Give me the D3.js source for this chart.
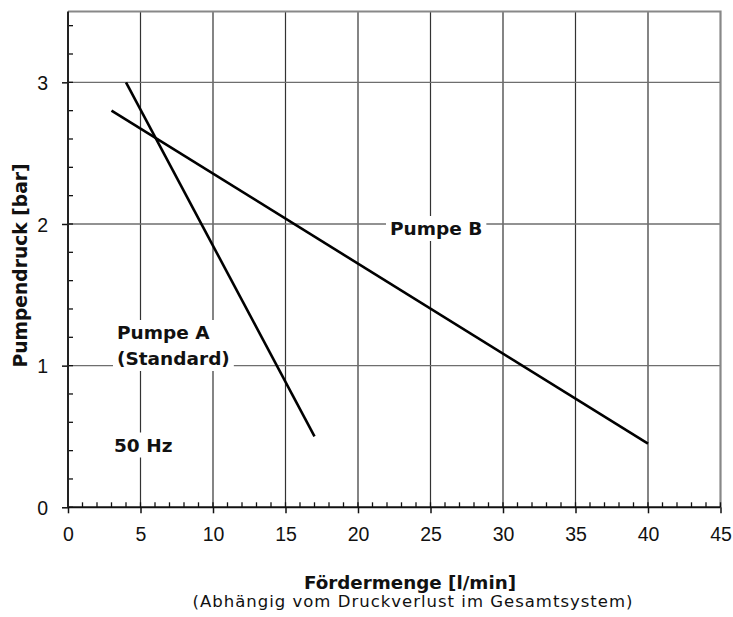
<!DOCTYPE html>
<html>
<head>
<meta charset="utf-8">
<script src="https://cdn.jsdelivr.net/npm/d3@7"></script>
<style>
  body { margin: 0; background: #fff; }
  text { font-family: "DejaVu Sans", sans-serif; }
</style>
</head>
<body>
<script>
// pump curves: [flow l/min, pressure bar]
let pumpeA = [[4, 3.0], [17, 0.5]];
let pumpeB = [[3, 2.8], [40, 0.45]];
let xTicks = [0, 5, 10, 15, 20, 25, 30, 35, 40, 45];
let yTicks = [0, 1, 2, 3];
let xMinor = d3.range(0, 46, 1);
let yMinor = d3.range(0, 3.51, 0.2);

let width = 733, height = 617;
let plotLeft = 68, plotRight = 720.5, plotTop = 11.5, plotBottom = 507.3;

let svg = d3.select("body").append("svg")
    .attr("width", width)
    .attr("height", height);

let x = d3.scaleLinear().domain([0, 45]).range([plotLeft, plotRight]);
let y = d3.scaleLinear().domain([0, 3.5]).range([plotBottom, plotTop]);

// grid
svg.selectAll(".vgrid")
    .data(xTicks.filter(d => d > 0 && d < 45))
    .enter()
        .append("line")
        .attr("x1", d => x(d)).attr("x2", d => x(d))
        .attr("y1", plotBottom).attr("y2", plotTop)
        .attr("stroke", "#333").attr("stroke-width", 1.2);

svg.selectAll(".hgrid")
    .data(yTicks.filter(d => d > 0))
    .enter()
        .append("line")
        .attr("x1", plotLeft).attr("x2", plotRight)
        .attr("y1", d => y(d)).attr("y2", d => y(d))
        .attr("stroke", "#6e6e6e").attr("stroke-width", 1.4);

// frame top/right
svg.append("path")
    .attr("d", `M${plotLeft},${plotTop}H${plotRight}V${plotBottom}`)
    .attr("fill", "none")
    .attr("stroke", "#888").attr("stroke-width", 2.2);

// axes
let xAxis = d3.axisBottom(x).tickValues(xTicks).tickSize(6).tickPadding(14);
let gx = svg.append("g")
    .attr("transform", `translate(0, ${plotBottom})`)
    .call(xAxis);

let yAxis = d3.axisLeft(y).tickValues(yTicks).tickFormat(d3.format("d"))
    .tickSize(6).tickPadding(14);
let gy = svg.append("g")
    .attr("transform", `translate(${plotLeft}, 0)`)
    .call(yAxis);

[gx, gy].forEach(g => {
    g.select(".domain").remove();
    g.selectAll("line").attr("stroke", "#111").attr("stroke-width", 1.5);
    g.selectAll("text")
        .attr("fill", "#111")
        .style("font-size", "19.5px")
        .style("font-family", "Liberation Sans, sans-serif");
});
gy.selectAll("text").attr("dy", "0.36em");

// minor ticks pointing inward
svg.selectAll(".xminor")
    .data(xMinor)
    .enter()
        .append("line")
        .attr("x1", d => x(d)).attr("x2", d => x(d))
        .attr("y1", plotBottom).attr("y2", plotBottom - 5)
        .attr("stroke", "#111").attr("stroke-width", 1.3);

svg.selectAll(".yminor")
    .data(yMinor)
    .enter()
        .append("line")
        .attr("x1", plotLeft).attr("x2", plotLeft + 5)
        .attr("y1", d => y(d)).attr("y2", d => y(d))
        .attr("stroke", "#111").attr("stroke-width", 1.3);

// axis lines
svg.append("line")
    .attr("x1", plotLeft).attr("x2", plotRight)
    .attr("y1", plotBottom).attr("y2", plotBottom)
    .attr("stroke", "#111").attr("stroke-width", 2);
svg.append("line")
    .attr("x1", plotLeft).attr("x2", plotLeft)
    .attr("y1", plotTop).attr("y2", plotBottom)
    .attr("stroke", "#222").attr("stroke-width", 2);

// labels with white background knocking out the grid
function label(lines, cx, cy, lh) {
    let g = svg.append("g");
    let t = g.append("text")
        .attr("font-weight", "bold")
        .attr("font-size", 18.5)
        .attr("fill", "#111");
    lines.forEach((s, i) => {
        t.append("tspan").attr("x", cx).attr("y", cy + i * lh).text(s);
    });
    let b = t.node().getBBox();
    g.insert("rect", "text")
        .attr("x", b.x - 4).attr("y", b.y - 2)
        .attr("width", b.width + 8).attr("height", b.height + 4)
        .attr("fill", "#fff");
}

// pump lines
let line = d3.line().x(d => x(d[0])).y(d => y(d[1]));
[pumpeA, pumpeB].forEach(p => {
    svg.append("path")
        .attr("d", line(p))
        .attr("fill", "none")
        .attr("stroke", "#000")
        .attr("stroke-width", 2.6);
});

label(["Pumpe B"], 390, 235, 0);
label(["Pumpe A", "(Standard)"], 117, 339, 26);
label(["50 Hz"], 114, 451.5, 0);

// axis titles
svg.append("text")
    .attr("x", 410).attr("y", 589)
    .attr("text-anchor", "middle")
    .attr("font-weight", "bold").attr("font-size", 18.3)
    .attr("fill", "#111")
    .text("Fördermenge [l/min]");
svg.append("text")
    .attr("x", 412.5).attr("y", 606.5)
    .attr("text-anchor", "middle")
    .attr("font-size", 16.5)
    .attr("textLength", 440)
    .attr("lengthAdjust", "spacing")
    .attr("fill", "#111")
    .text("(Abhängig vom Druckverlust im Gesamtsystem)");

svg.append("text")
    .attr("transform", "translate(27, 265.5) rotate(-90)")
    .attr("text-anchor", "middle")
    .attr("font-weight", "bold").attr("font-size", 18.7)
    .attr("fill", "#111")
    .text("Pumpendruck [bar]");
</script>
</body>
</html>
